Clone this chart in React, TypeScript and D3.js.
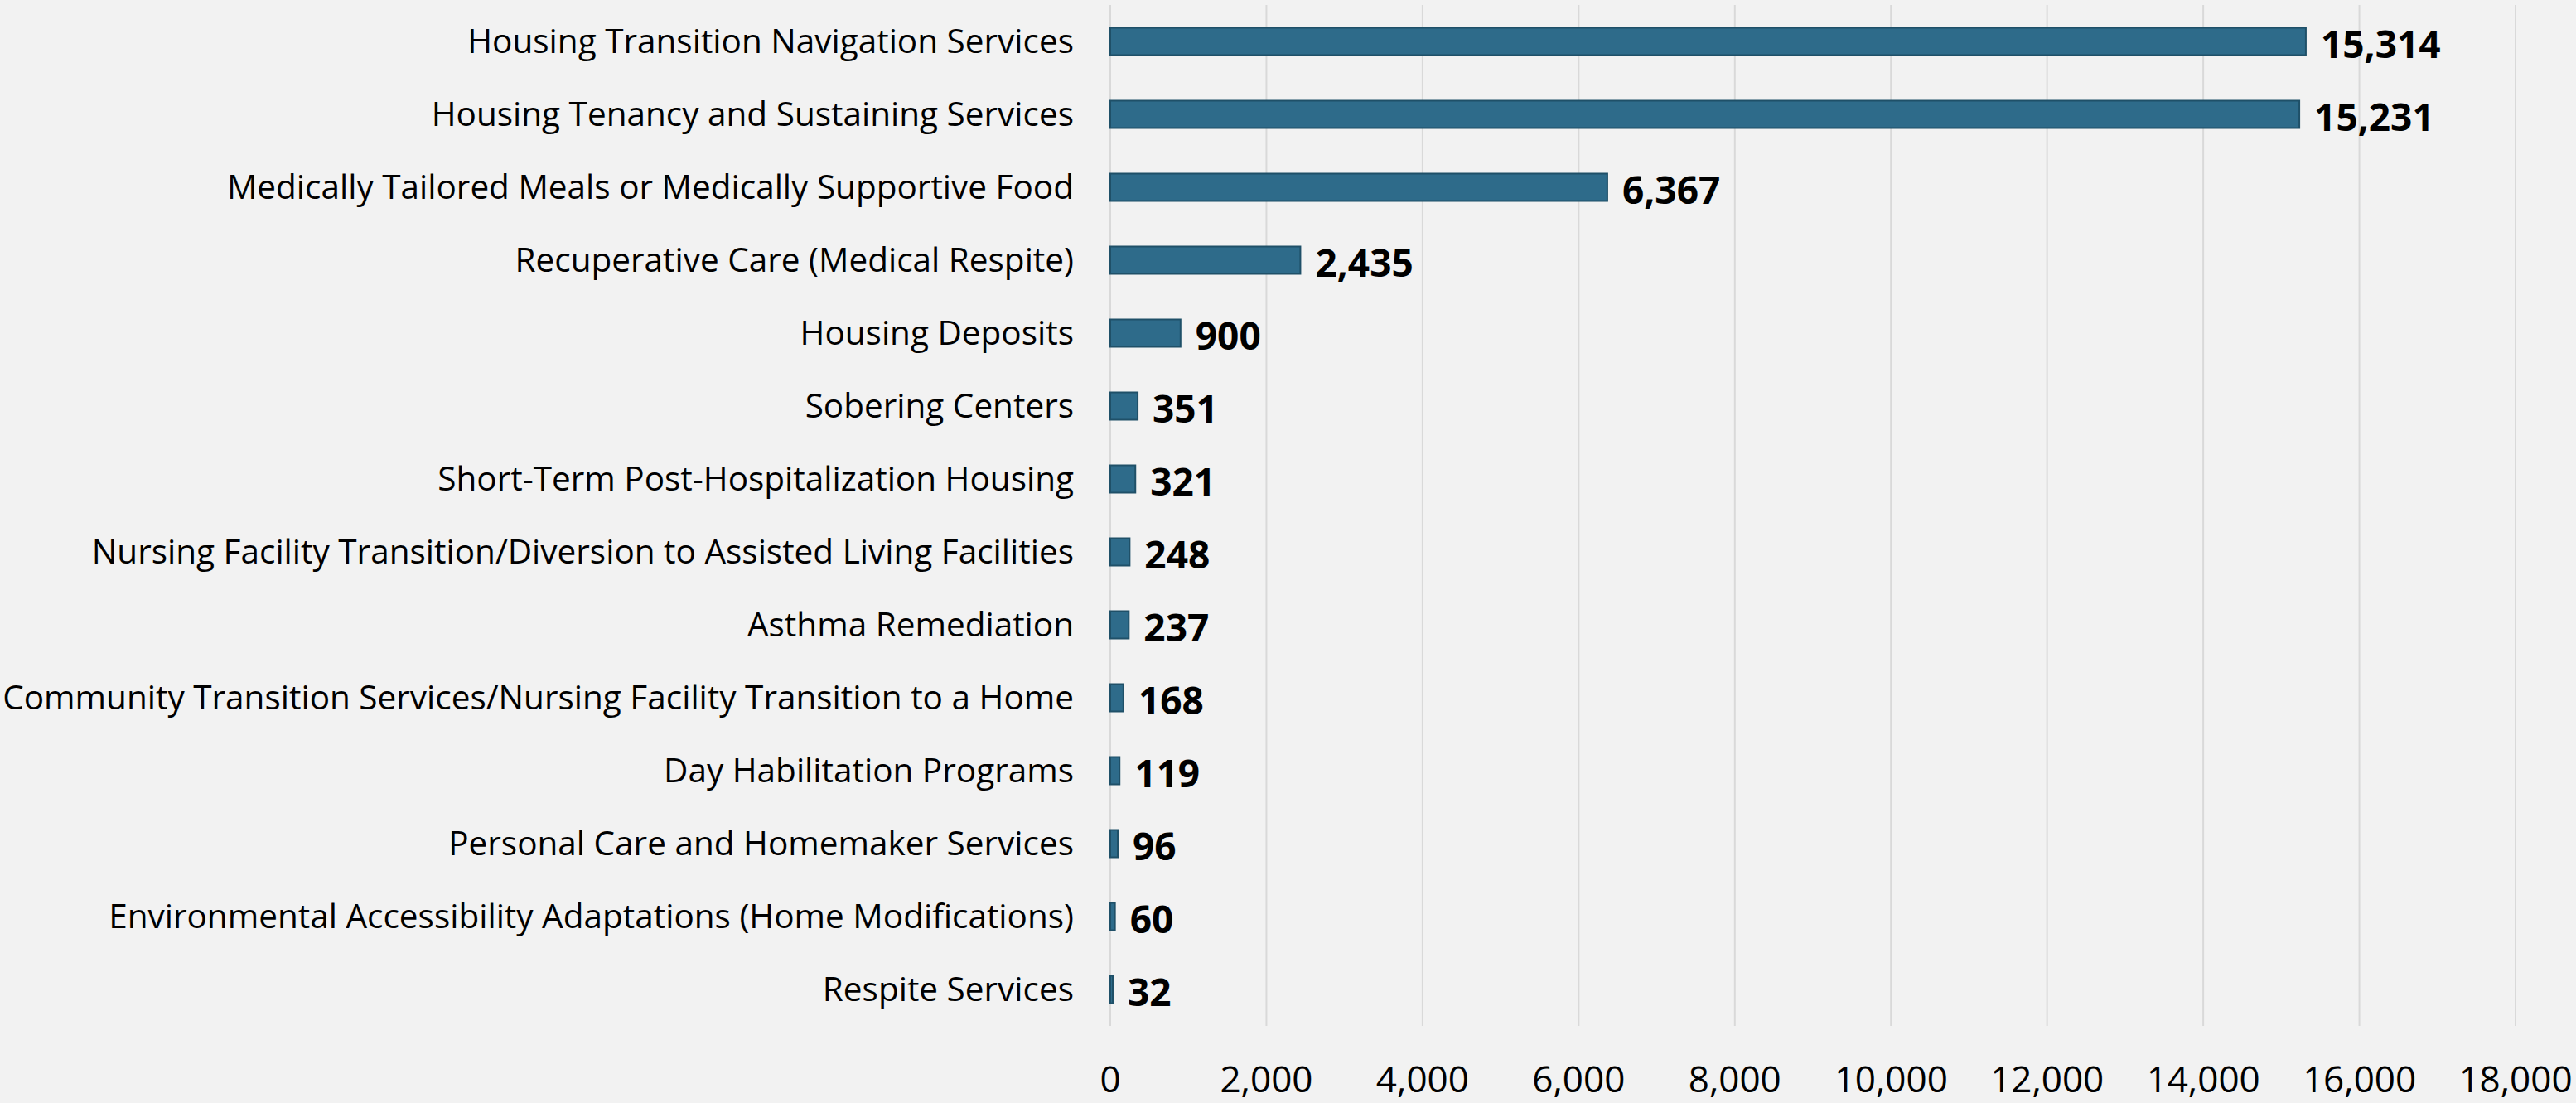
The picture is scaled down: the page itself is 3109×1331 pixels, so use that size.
import React from "react";
import * as d3 from "d3";

const categories = [
  "Housing Transition Navigation Services",
  "Housing Tenancy and Sustaining Services",
  "Medically Tailored Meals or Medically Supportive Food",
  "Recuperative Care (Medical Respite)",
  "Housing Deposits",
  "Sobering Centers",
  "Short-Term Post-Hospitalization Housing",
  "Nursing Facility Transition/Diversion to Assisted Living Facilities",
  "Asthma Remediation",
  "Community Transition Services/Nursing Facility Transition to a Home",
  "Day Habilitation Programs",
  "Personal Care and Homemaker Services",
  "Environmental Accessibility Adaptations (Home Modifications)",
  "Respite Services",
];
const values = [15314, 15231, 6367, 2435, 900, 351, 321, 248, 237, 168, 119, 96, 60, 32];
const xTicks = [0, 2000, 4000, 6000, 8000, 10000, 12000, 14000, 16000, 18000];

const W = 3109;
const H = 1331;
const FONT = "'Open Sans', 'Noto Sans', sans-serif";

export default function App() {
  const x = d3.scaleLinear().domain([0, 18000]).range([1340, 3036]);
  const y = d3.scaleBand<string>().domain(categories).range([6, 1238]).paddingInner(0.625).paddingOuter(0.3125);
  const fmt = d3.format(",");
  return (
    <svg width={W} height={H} style={{ position: "absolute", left: 0, top: 0, background: "#f2f2f2" }}>
      <rect x={0} y={0} width={W} height={H} fill="#f2f2f2" />
      {xTicks.map((t) => (
        <line key={"g" + t} x1={x(t)} x2={x(t)} y1={6} y2={1238} stroke="#d9d9d9" strokeWidth={2} />
      ))}
      {xTicks.map((t) => (
        <text key={"t" + t} x={x(t)} y={1318} textAnchor="middle" fontFamily={FONT} fontSize={44} fill="#000">
          {fmt(t)}
        </text>
      ))}
      {categories.map((c, i) => {
        const yc = (y(c) as number) + y.bandwidth() / 2;
        return (
          <g key={c}>
            <text x={1296} y={yc} dy="0.35em" textAnchor="end" fontFamily={FONT} fontSize={40.5} fill="#000">
              {c}
            </text>
            <rect
              x={x(0)}
              y={y(c)}
              width={Math.max(x(values[i]) - x(0), 1)}
              height={y.bandwidth()}
              fill="#2e6b8a"
              stroke="#1f5068"
              strokeWidth={2}
            />
            <text x={x(values[i]) + 18} y={yc + 4} dy="0.35em" fontFamily={FONT} fontSize={46} fontWeight="bold" fill="#000">
              {fmt(values[i])}
            </text>
          </g>
        );
      })}
    </svg>
  );
}
